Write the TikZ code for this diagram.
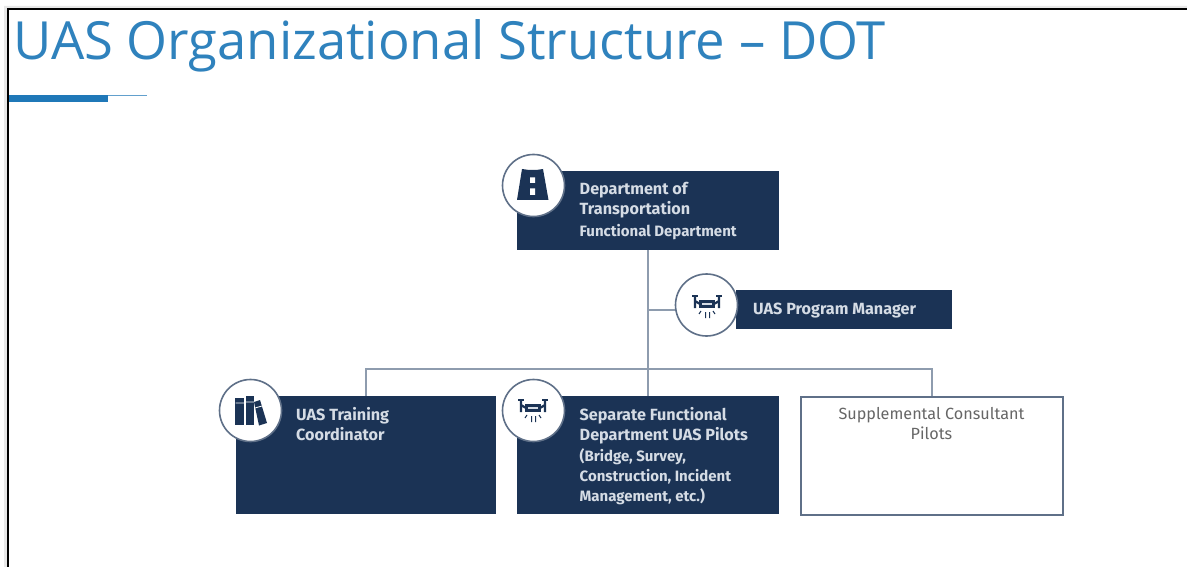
\documentclass[tikz,border=0pt]{standalone}
\usepackage{fontspec}
\setmainfont{Fira Sans}
\newfontfamily\titlefont{Open Sans}
\definecolor{navy}{HTML}{1B3355}
\definecolor{linec}{HTML}{8E9CAE}
\definecolor{outl}{HTML}{5F7088}
\definecolor{titleblue}{HTML}{2F82BD}
\definecolor{bar}{HTML}{1F78B8}
\definecolor{btext}{HTML}{D5DCE5}
\definecolor{stext}{HTML}{666666}
\tikzset{
 navybox/.style={fill=navy,draw=none,inner sep=0pt,anchor=north west},
 whitebox/.style={fill=white,draw=outl,line width=2pt,inner sep=0pt,anchor=north west},
 badge/.style={circle,fill=white,draw=outl,line width=1.6pt,minimum size=62pt,inner sep=0pt},
 conn/.style={draw=linec,line width=2pt},
 lab/.style={anchor=north west,align=left,inner sep=0pt,text=btext,font=\fontsize{16.2}{20}\selectfont\bfseries},
 sublab/.style={anchor=north west,align=left,inner sep=0pt,text=btext,font=\fontsize{15}{20}\selectfont\bfseries},
}
\newcommand{\dronepic}[2]{%
 \begin{scope}[shift={(#1)},scale=#2]
  \fill[navy] (-8,-4) rectangle (8,4);
  \fill[btext] (-5,-1) rectangle (5,1);
  \draw[navy,line width=2.2pt] (-12,-8) -- (-12,4) (12,-8) -- (12,4) (-12,-3) -- (-7,0) (12,-3) -- (7,0);
  \draw[navy,line width=2pt] (-15,-8) -- (-9,-8) (9,-8) -- (15,-8);
  \draw[navy,line width=1pt] (-6,7) -- (-8,10) (-1.5,8) -- (-1.5,14) (2.5,8) -- (2.5,14) (6,7) -- (8,10);
 \end{scope}}
\begin{document}
\begin{tikzpicture}[x=1pt,y=-1pt]
\useasboundingbox (0,0) rectangle (1187,567);
\fill[white] (0,0) rectangle (1187,567);
\fill[black!9] (4,6) rectangle (1187,9) (4,6) rectangle (7,567);
\draw[black,line width=2pt] (8,567) -- (8,9.5) -- (1187,9.5);
\node[anchor=base west,inner sep=0pt,text=titleblue,font=\titlefont\fontsize{52.6}{54}\selectfont] (title) at (13,60) {UAS Organizational Structure – DOT};
\fill[bar] (9,95) rectangle (108,102);
\draw[bar!70,line width=1.5pt] (108,95.7) -- (147,95.7);

\node[navybox,minimum width=262pt,minimum height=79pt] (dot) at (517,170.5) {};
\node[navybox,minimum width=216pt,minimum height=39pt] (pm) at (736,290) {};
\node[navybox,minimum width=260.5pt,minimum height=118pt] (tc) at (235.5,395.5) {};
\node[navybox,minimum width=262pt,minimum height=118pt] (pilots) at (517,395.5) {};
\node[whitebox,minimum width=262pt,minimum height=118pt] (cons) at (799.5,395.5) {};

\coordinate (bus) at (648.5,368.5);
\draw[conn] (dot.south) -- (pilots.north);
\draw[conn] (tc.north) |- (bus) -| (cons.north);
\draw[conn,line width=1.6pt] (dot.south |- pm) -- (pm);

\node[badge] (b1) at (533.5,185.5) {};
\node[badge] (b2) at (706.5,305) {};
\node[badge] (b3) at (250.5,410.5) {};
\node[badge] (b4) at (533.5,410.5) {};

% road icon
\fill[navy] (522,169) -- (529,170) -- (536,170) -- (543,169) -- (548.5,200) -- (517,200) -- cycle;
\fill[white] (530,177.5) rectangle (535,183) (530,188.5) rectangle (535,195);
% drones
\dronepic{707,304}{1}
\dronepic{533,408}{1}
% books
\fill[navy] (235,398) rectangle (244,425);
\fill[navy] (245.5,396) rectangle (254,425);
\fill[navy] (254,402) -- (260,400) -- (267,423) -- (259,425.5) -- cycle;
\draw[white,line width=.8pt] (235.5,403) -- (244,403) (245.5,402) -- (254,402) (255,408) -- (262,406);

\node[lab] (t1) at (579.5,182) {Department of\\Transportation};
\node[sublab] (t1b) at (579.5,224.5) {Functional Department};
\node[lab,anchor=west] (t2) at (753,310.5) {UAS Program Manager};
\node[lab] (t3) at (296,407) {UAS Training\\Coordinator};
\node[lab] (t4) at (579.5,407) {Separate Functional\\Department UAS Pilots};
\node[sublab] (t4b) at (579.5,448.5) {(Bridge, Survey,\\Construction, Incident\\Management, etc.)};
\node[anchor=north,align=center,inner sep=0pt,text=stext,font=\fontsize{16.2}{20}\selectfont] (t5) at (931.5,407) {Supplemental Consultant\\Pilots};
\end{tikzpicture}
\end{document}
